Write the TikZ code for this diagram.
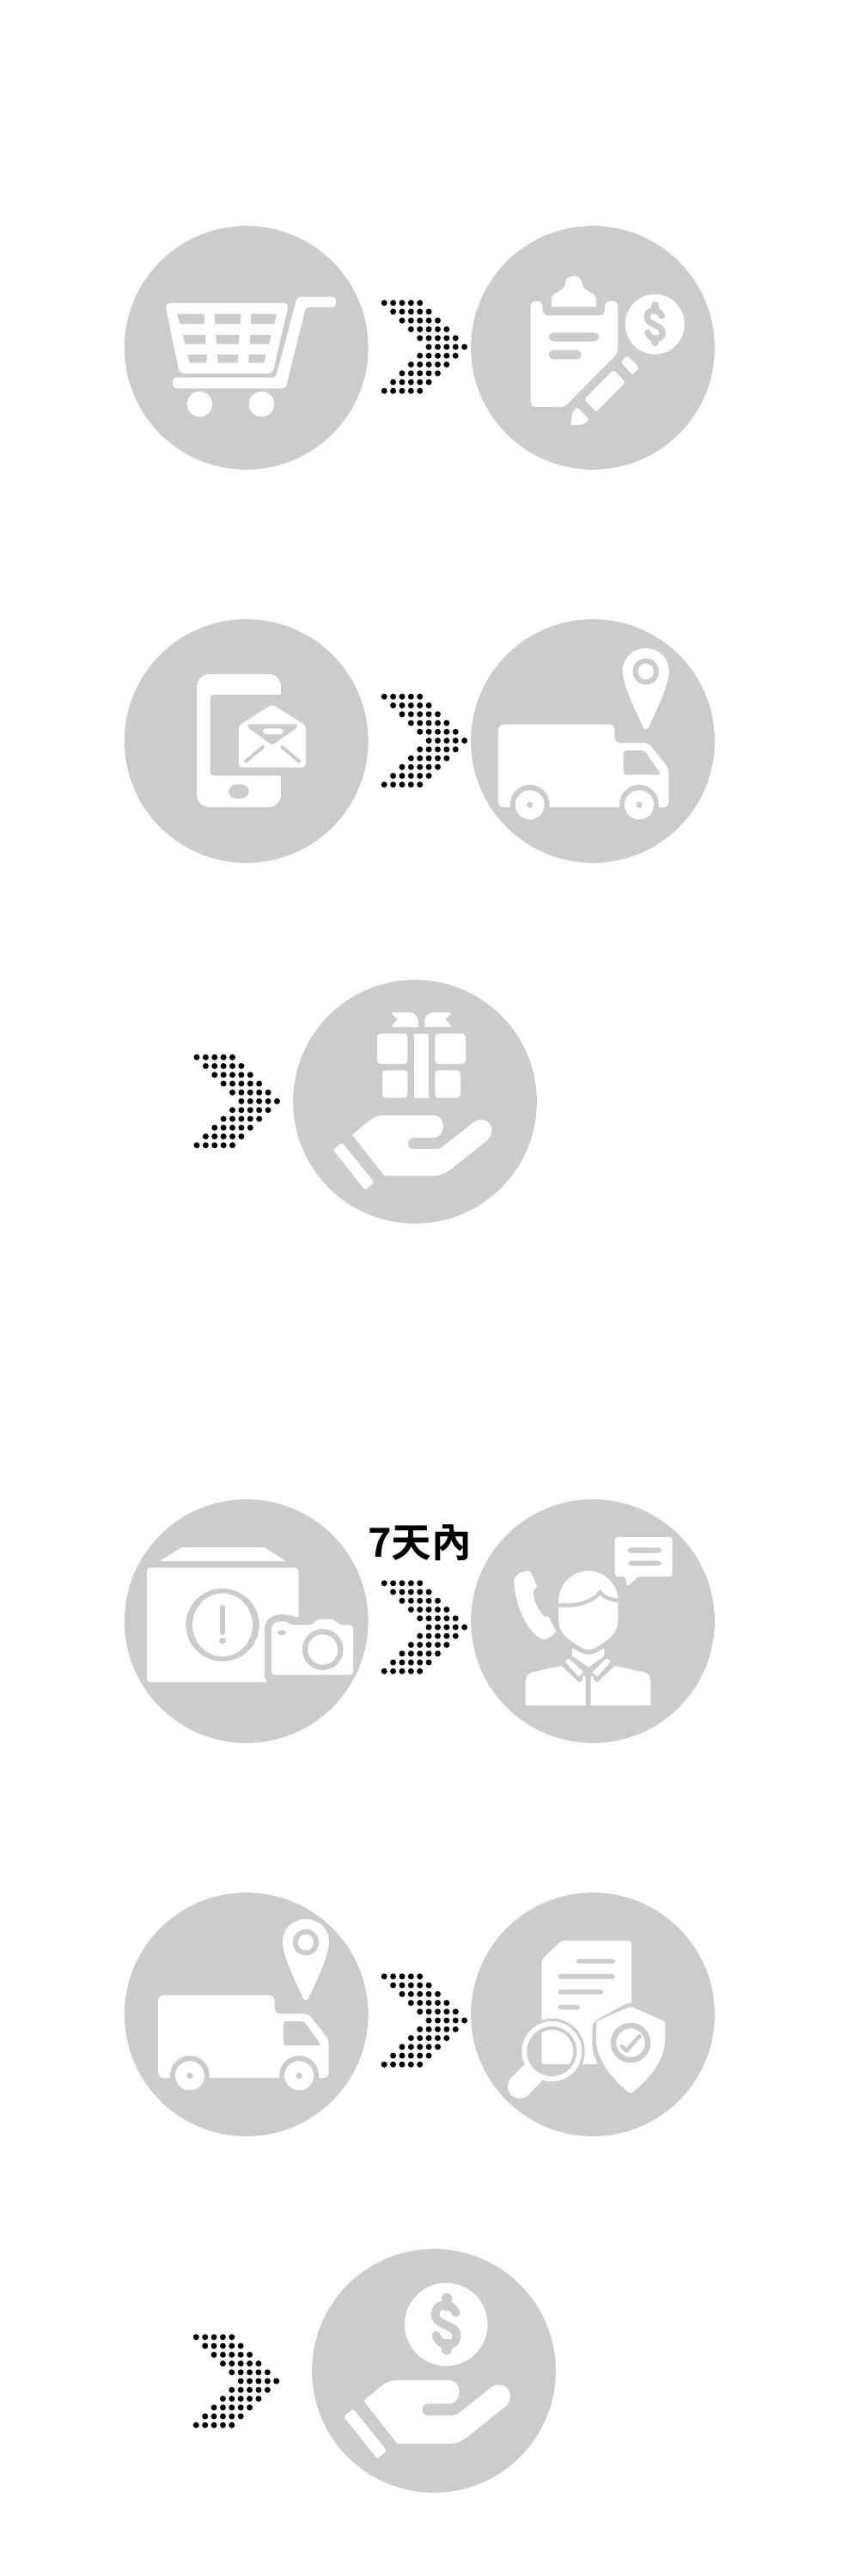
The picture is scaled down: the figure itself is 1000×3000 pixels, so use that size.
\documentclass[tikz,border=0pt]{standalone}
\usepackage{fontspec}
\newfontfamily\cjkb{Noto Sans CJK TC}[BoldFont={Noto Sans CJK TC Bold}]
\definecolor{disc}{HTML}{CCCCCC}
\tikzset{
  discnode/.style={circle,fill=disc,draw=none,inner sep=0pt,minimum size=212.8pt},
  dotdisc/.style={fill=black},
  zoomw/.style={xscale=0.45918,yscale=0.33333},
  zooms/.style={scale=0.33333},
  ic/.style={fill=white},
  ig/.style={fill=disc},
  gl/.style={draw=disc,line cap=round,line join=round},
}
\newcommand{\dotarrow}[2]{%
  \foreach \r in {0,...,10}{%
    \pgfmathsetmacro{\off}{5-abs(\r-5)}%
    \foreach \c in {0,...,4}{%
      \fill[dotdisc] ({#1+10.38*(\c+\off)},{#2+10.25*(\r-5)}) circle[radius=3.5];
    }%
  }%
}
\newcommand{\dollarsign}[2]{%
  \draw[gl,line width=#1] (34,-41) .. controls (22,-66) and (-3,-73) .. (-23,-63) .. controls (-43,-51) and (-43,-23) .. (-23,-9) -- (22,14) .. controls (42,29) and (42,54) .. (22,67) .. controls (2,77) and (-23,69) .. (-35,39);
  \draw[gl,line width=#2] (2,-91) -- (2,-66);
  \draw[gl,line width=#2] (2,69) -- (2,87);
}
\newcommand{\truckicon}{%
  \fill[ic,rounded corners=4pt] (980,690) -- (980,401) -- (1275,401) -- (1275,465) -- (1360,465) -- (1412,555) -- (1412,690) -- cycle;
  \fill[ig] (1060,682) ellipse (50 and 70);
  \fill[ig] (1337,682) ellipse (50 and 70);
  \fill[ic] (1060,682) ellipse (37 and 51);
  \fill[ic] (1337,682) ellipse (37 and 51);
  \fill[ig] (1060,682) ellipse (8 and 11);
  \fill[ig] (1337,682) ellipse (8 and 11);
  \fill[ig,rounded corners=2.5pt] (1297,492) -- (1350,492) -- (1393,576) -- (1297,576) -- cycle;
  \fill[ic] (1354,135) .. controls (1320,135) and (1295,170) .. (1295,215) .. controls (1295,260) and (1330,360) .. (1348,413) -- (1354,418) -- (1360,413) .. controls (1378,360) and (1413,260) .. (1413,215) .. controls (1413,170) and (1388,135) .. (1354,135) -- cycle;
  \fill[ig] (1354,216) ellipse (33 and 46);
  \fill[ic] (1354,216) ellipse (20 and 28);
}
\newcommand{\handicon}{%
  \fill[ic,rounded corners=2pt] (533,627) -- (565,602) -- (677,741) -- (645,768) -- cycle;
  \fill[ic] (600,575) -- (660,525) .. controls (675,513) and (690,507) .. (710,507) -- (885,507) .. controls (905,507) and (918,525) .. (918,545) .. controls (918,565) and (905,585) .. (885,585) -- (812,585) .. controls (802,585) and (795,595) .. (795,605) .. controls (795,615) and (802,624) .. (812,624) -- (895,624) .. controls (905,624) and (910,621) .. (915,617) -- (1025,530) .. controls (1050,512) and (1087,525) .. (1087,560) .. controls (1087,575) and (1082,585) .. (1072,593) -- (945,695) .. controls (925,710) and (905,718) .. (880,718) -- (712,718) -- cycle;
}
\begin{document}
\begin{tikzpicture}[x=0.75pt,y=-0.75pt]
\useasboundingbox (0,0) rectangle (1000,3000);
\fill[white] (0,0) rectangle (1000,3000);
% discs
\node[discnode] (d1) at (286.7,405) {};
\node[discnode] (d2) at (690,405) {};
\node[discnode] (d3) at (286.7,863) {};
\node[discnode] (d4) at (690,863) {};
\node[discnode] (d5) at (483,1283) {};
\node[discnode] (d6) at (286.7,1888) {};
\node[discnode] (d7) at (690,1888) {};
\node[discnode] (d8) at (286.7,2346) {};
\node[discnode] (d9) at (690,2346) {};
\node[discnode] (d10) at (505,2761) {};
% dotted arrows
\dotarrow{447.2}{404}
\dotarrow{447.2}{862.5}
\dotarrow{229}{1282.5}
\dotarrow{447.2}{1895}
\dotarrow{447.2}{2353}
\dotarrow{228.3}{2773}
% label
\node[inner sep=0pt] (lbl) at (488.5,1797) {\cjkb\bfseries\fontsize{35pt}{36pt}\selectfont 7天內};
% cart and clipboard
\begin{scope}[shift={(130,250)},zoomw]
  \fill[ic,rounded corners=4pt] (135,309) -- (449,309) -- (408,555) -- (172,555) -- cycle;
  \foreach \a/\b/\c/\d/\e/\f in {166/234/173/235/347/382,260/328/262/326/347/382,353/418/353/412/347/382,180/237/186/238/420/452,264/324/266/322/420/452,351/404/351/399/420/452,192/241/198/241/489/518,268/320/269/319/489/518,347/391/347/386/489/518}{
    \fill[ig] (\a,\e) -- (\b,\e) -- (\d,\f) -- (\c,\f) -- cycle;
  }
  \fill[ic,rounded corners=3pt] (155,569) -- (416,569) -- (470,287) -- (568,287) -- (568,323) -- (492,323) -- (441,607) -- (155,607) -- cycle;
  \fill[ic] (223,662) ellipse (32 and 44);
  \fill[ic] (380,662) ellipse (32 and 44);
  \fill[ic,rounded corners=4pt] (1062,302) -- (1092,302) -- (1092,352) -- (1250,352) -- (1250,302) -- (1283,302) -- (1283,483) -- (1148,672) -- (1062,672) -- cycle;
  \fill[ic] (1115,322) -- (1115,295) .. controls (1115,270) and (1148,270) .. (1150,240) .. controls (1150,205) and (1192,205) .. (1192,240) .. controls (1194,270) and (1228,270) .. (1228,295) -- (1228,322) -- cycle;
  \fill[ig,rounded corners=4pt] (1108,412) rectangle (1235,443);
  \fill[ig,rounded corners=4pt] (1108,473) rectangle (1191,505);
  \fill[ic] (1377,383) ellipse (75 and 105);
  \fill[ic,rounded corners=2pt] (1290,515) -- (1307,492) -- (1337,535) -- (1320,560) -- cycle;
  \fill[ic,rounded corners=2pt] (1198,645) -- (1272,542) -- (1302,585) -- (1228,690) -- cycle;
  \fill[ic,rounded corners=2pt] (1163,736) -- (1168,690) -- (1180,672) -- (1210,715) -- (1197,733) -- cycle;
\end{scope}
\begin{scope}[shift={(762.2,377.7)},scale=0.2413]
  \dollarsign{5.4pt}{6.9pt}
\end{scope}
% phone and truck
\begin{scope}[shift={(130,710)},zoomw]
  \fill[ic,rounded corners=11pt] (216,225) rectangle (429,690);
  \fill[ig,rounded corners=3pt] (250,297) rectangle (445,580);
  \fill[ig] (400,297) rectangle (445,580);
  \fill[ig,rounded corners=7pt] (296,610) rectangle (348,660);
  \fill[ic,rounded corners=3pt] (322,405) -- (407,331) -- (492,405) -- (492,551) -- (322,551) -- cycle;
  \fill[ig,rounded corners=2pt] (345,400) -- (470,400) -- (470,412) -- (407,473) -- (345,412) -- cycle;
  \fill[ic,rounded corners=3pt] (383,415) rectangle (436,435);
  \draw[gl,line width=3pt] (383,480) -- (340,530);
  \draw[gl,line width=3pt] (432,480) -- (475,530);
  \truckicon
\end{scope}
% gift on hand
\begin{scope}[shift={(210,1130)},zooms]
  \fill[ic,rounded corners=3pt] (687,221) rectangle (793,327);
  \fill[ic,rounded corners=3pt] (889,221) rectangle (996,327);
  \fill[ic] (815,221) rectangle (868,446);
  \fill[ic,rounded corners=3pt] (705,349) rectangle (793,446);
  \fill[ic,rounded corners=3pt] (889,349) rectangle (978,446);
  \fill[ic] (739,147) -- (800,147) .. controls (820,147) and (831,165) .. (831,180) -- (831,198) -- (739,198) -- (739,192) -- (758,172) -- (739,153) -- cycle;
  \fill[ic] (944,147) -- (883,147) .. controls (863,147) and (852,165) .. (852,180) -- (852,198) -- (944,198) -- (944,192) -- (925,172) -- (944,153) -- cycle;
  \handicon
\end{scope}
% box and camera
\begin{scope}[shift={(130,1735)},zoomw]
  \fill[ic] (122,249) -- (178,201) -- (387,201) -- (441,249) -- cycle;
  \fill[ic,rounded corners=3pt] (89,272) rectangle (474,672);
  \fill[ig] (281,472) ellipse (93 and 127);
  \fill[ic] (281,472) ellipse (76 and 110);
  \draw[gl,line width=5pt] (281,412) -- (281,498);
  \fill[ig] (281,528) ellipse (9 and 11);
  \fill[ig,rounded corners=5pt] (388,672) -- (388,460) -- (415,435) -- (450,435) -- (458,445) -- (490,445) -- (490,680) -- (415,680) -- cycle;
  \fill[ic,rounded corners=3pt] (405,647) -- (405,472) -- (418,460) -- (445,460) -- (450,472) -- (510,472) -- (520,452) -- (565,452) -- (575,472) -- (612,472) -- (612,647) -- cycle;
  \fill[ig] (535,558) ellipse (52 and 72);
  \fill[ic] (535,558) ellipse (38 and 53);
  \fill[ig] (431,499) ellipse (11 and 9);
\end{scope}
% person
\begin{scope}[shift={(560,1760)},zooms]
  \fill[ic] (270,316) .. controls (270,255) and (320,208) .. (375,208) .. controls (430,208) and (478,255) .. (478,310) -- (478,380) .. controls (478,425) and (445,450) .. (400,476) .. controls (385,486) and (365,486) .. (350,476) .. controls (305,450) and (270,425) .. (270,380) -- cycle;
  \draw[gl,line width=3.3pt,line cap=butt] (266,327) .. controls (330,336) and (395,315) .. (415,282) .. controls (428,300) and (450,310) .. (482,312);
  \fill[ic] (318,478) .. controls (345,495) and (360,500) .. (375,500) .. controls (395,500) and (410,490) .. (430,478) -- (430,505) -- (375,545) -- (318,505) -- cycle;
  \fill[ic,rounded corners=1.5pt] (292,525) -- (305,513) -- (358,562) -- (342,578) -- cycle;
  \fill[ic,rounded corners=1.5pt] (453,525) -- (440,513) -- (388,562) -- (405,578) -- cycle;
  \fill[ic] (155,678) -- (155,595) .. controls (155,575) and (165,567) .. (180,562) -- (280,540) -- (335,592) .. controls (342,600) and (350,597) .. (354,590) -- (358,574) -- (365,580) -- (365,678) -- cycle;
  \fill[ic] (383,678) -- (383,580) -- (390,574) -- (394,590) .. controls (398,597) and (406,600) .. (412,592) -- (467,540) -- (568,562) .. controls (585,567) and (592,575) .. (592,595) -- (592,678) -- cycle;
  \fill[ic] (115,240) .. controls (118,222) and (140,210) .. (165,208) -- (175,215) -- (195,262) -- (183,278) .. controls (178,310) and (205,355) .. (222,368) -- (235,368) -- (262,420) .. controls (250,435) and (230,447) .. (215,448) .. controls (160,425) and (115,320) .. (115,240) -- cycle;
  \fill[ic,rounded corners=2.5pt] (467,90) rectangle (668,228);
  \fill[ic,rounded corners=1pt] (498,220) -- (512,262) -- (557,220) -- cycle;
  \fill[ig,rounded corners=3pt] (512,127) rectangle (630,146);
  \fill[ig,rounded corners=3pt] (512,173) rectangle (630,191);
\end{scope}
% truck
\begin{scope}[shift={(-265.8,2190)},zoomw]
  \truckicon
\end{scope}
% document, shield, magnifier
\begin{scope}[shift={(590,2240)},zooms]
  \fill[ic,rounded corners=3pt] (121,128) -- (190,60) -- (435,60) -- (435,300) -- (320,492) -- (121,492) -- cycle;
  \foreach \a/\b/\c/\d in {242/124/378/140,178/177/378/194,178/231/338/248,178/285/255/301}{
    \fill[ig,rounded corners=2.5pt] (\a,\b) rectangle (\c,\d);
  }
  \fill[ig,rounded corners=5pt] (432,272) -- (566,330) -- (566,400) .. controls (566,490) and (500,560) .. (432,612) .. controls (365,560) and (298,490) .. (298,400) -- (298,345) -- cycle;
  \fill[ic,rounded corners=2pt] (432,290) -- (552,342) -- (552,400) .. controls (552,480) and (490,550) .. (432,595) .. controls (375,550) and (312,480) .. (312,400) -- (312,342) -- cycle;
  \fill[ig] (432,417) circle[radius=70];
  \fill[ic] (432,417) circle[radius=50];
  \draw[gl,line width=3.5pt] (402,430) -- (417,445) -- (463,394);
  \fill[ig] (157,447) circle[radius=115];
  \draw[white,line width=21pt,line cap=round] (45,570) -- (85,528);
  \fill[ic] (157,447) circle[radius=105];
  \fill[ig] (157,447) circle[radius=87];
  \begin{scope}
    \clip (157,447) circle[radius=75];
    \fill[ic,rounded corners=2pt] (121,330) rectangle (300,492);
  \end{scope}
\end{scope}
% coin on hand
\begin{scope}[shift={(213.33,2594.67)},scale=0.35]
  \handicon
\end{scope}
\begin{scope}[shift={(519.3,2707)},scale=0.33333]
  \fill[ic] (0,0) circle[radius=145];
  \dollarsign{7.5pt}{9.5pt}
\end{scope}
\end{tikzpicture}
\end{document}
